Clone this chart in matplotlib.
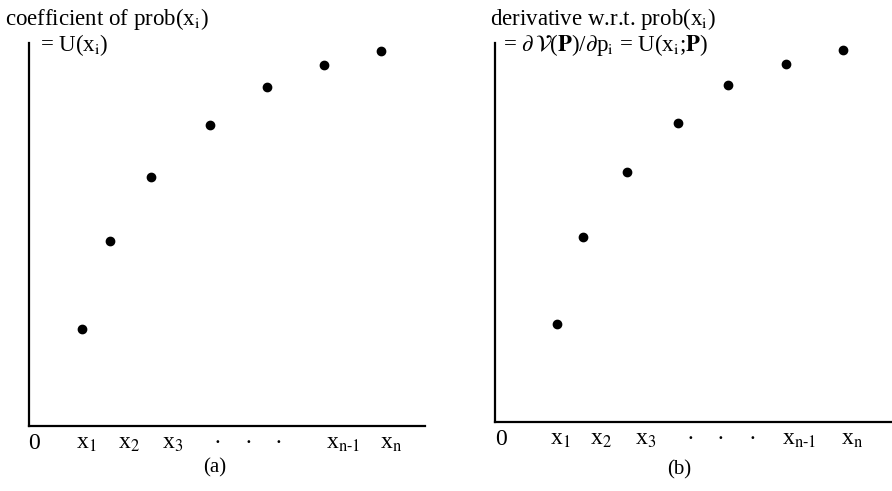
import matplotlib
matplotlib.use("Agg")
import matplotlib.pyplot as plt

plt.rcParams['font.family'] = ['Liberation Serif', 'DejaVu Serif']
plt.rcParams['mathtext.fontset'] = 'stix'

W, H = 892, 491

# Panel (a): utility points (pixel-like units above origin)
a_x = [53, 81, 122, 181, 238, 295, 352]
a_y = [97, 185, 249, 301, 339, 361, 375]
a_tick_pos = [-1, 47, 89, 133, 188, 219, 249, 297, 351]
# Panel (b)
b_x = [62, 88, 132, 183, 233, 291, 348]
b_y = [98, 185, 250, 299, 337, 358, 372]
b_tick_pos = [0, 55, 95, 140, 195, 225, 257, 287, 346]

tick_labels = ['0', 'x$_1$', 'x$_2$', 'x$_3$', '·', '·', '·',
               'x$_{\\mathrm{n}\\text{-}1}$', 'x$_\\mathrm{n}$']

fig = plt.figure(figsize=(W / 100, H / 100), dpi=100)


def make_axes(left, right, bottom, top):
    ax = fig.add_axes([left / W, (H - bottom) / H, (right - left) / W, (bottom - top) / H])
    ax.set_xlim(0, right - left)
    ax.set_ylim(0, bottom - top)
    for s in ['top', 'right']:
        ax.spines[s].set_visible(False)
    for s in ['left', 'bottom']:
        ax.spines[s].set_linewidth(1.6)
        ax.spines[s].set_color('black')
    ax.set_xticks([])
    ax.set_yticks([])
    ax.patch.set_alpha(0)
    return ax


def draw_ticks(ax, positions):
    for p, lab in zip(positions, tick_labels):
        if lab == '·':
            ax.text(p, -23, lab, ha='center', va='baseline', fontsize=17, clip_on=False)
        else:
            ax.text(p, -23, lab, ha='left', va='baseline', fontsize=17, clip_on=False)


axa = make_axes(29, 425, 426, 43)
axa.scatter(a_x, a_y, s=36, color='black', clip_on=False, zorder=3)
draw_ticks(axa, a_tick_pos)
axa.text(0.47, -0.11, '(a)', transform=axa.transAxes, ha='center', va='center', fontsize=15)

axb = make_axes(495, 892, 422, 43)
axb.scatter(b_x, b_y, s=36, color='black', clip_on=False, zorder=3)
draw_ticks(axb, b_tick_pos)
axb.text(0.465, -0.125, '(b)', transform=axb.transAxes, ha='center', va='center', fontsize=15)

fig.text(5 / W, 1 - 25 / H, 'coefficient of prob(x$_\\mathrm{i}$)', fontsize=16.5, va='baseline')
fig.text(40 / W, 1 - 51 / H, '= U(x$_\\mathrm{i}$)', fontsize=16.5, va='baseline')
fig.text(490 / W, 1 - 25 / H, 'derivative w.r.t. prob(x$_\\mathrm{i}$)', fontsize=16.5, va='baseline')
fig.text(503 / W, 1 - 51 / H,
         '= $\\partial\\,\\mathcal{V}$($\\mathbf{P}$)/$\\partial$p$_\\mathrm{i}$ = U(x$_\\mathrm{i}$;$\\mathbf{P}$)',
         fontsize=16.5, va='baseline')

fig.savefig('out.png', dpi=100)
